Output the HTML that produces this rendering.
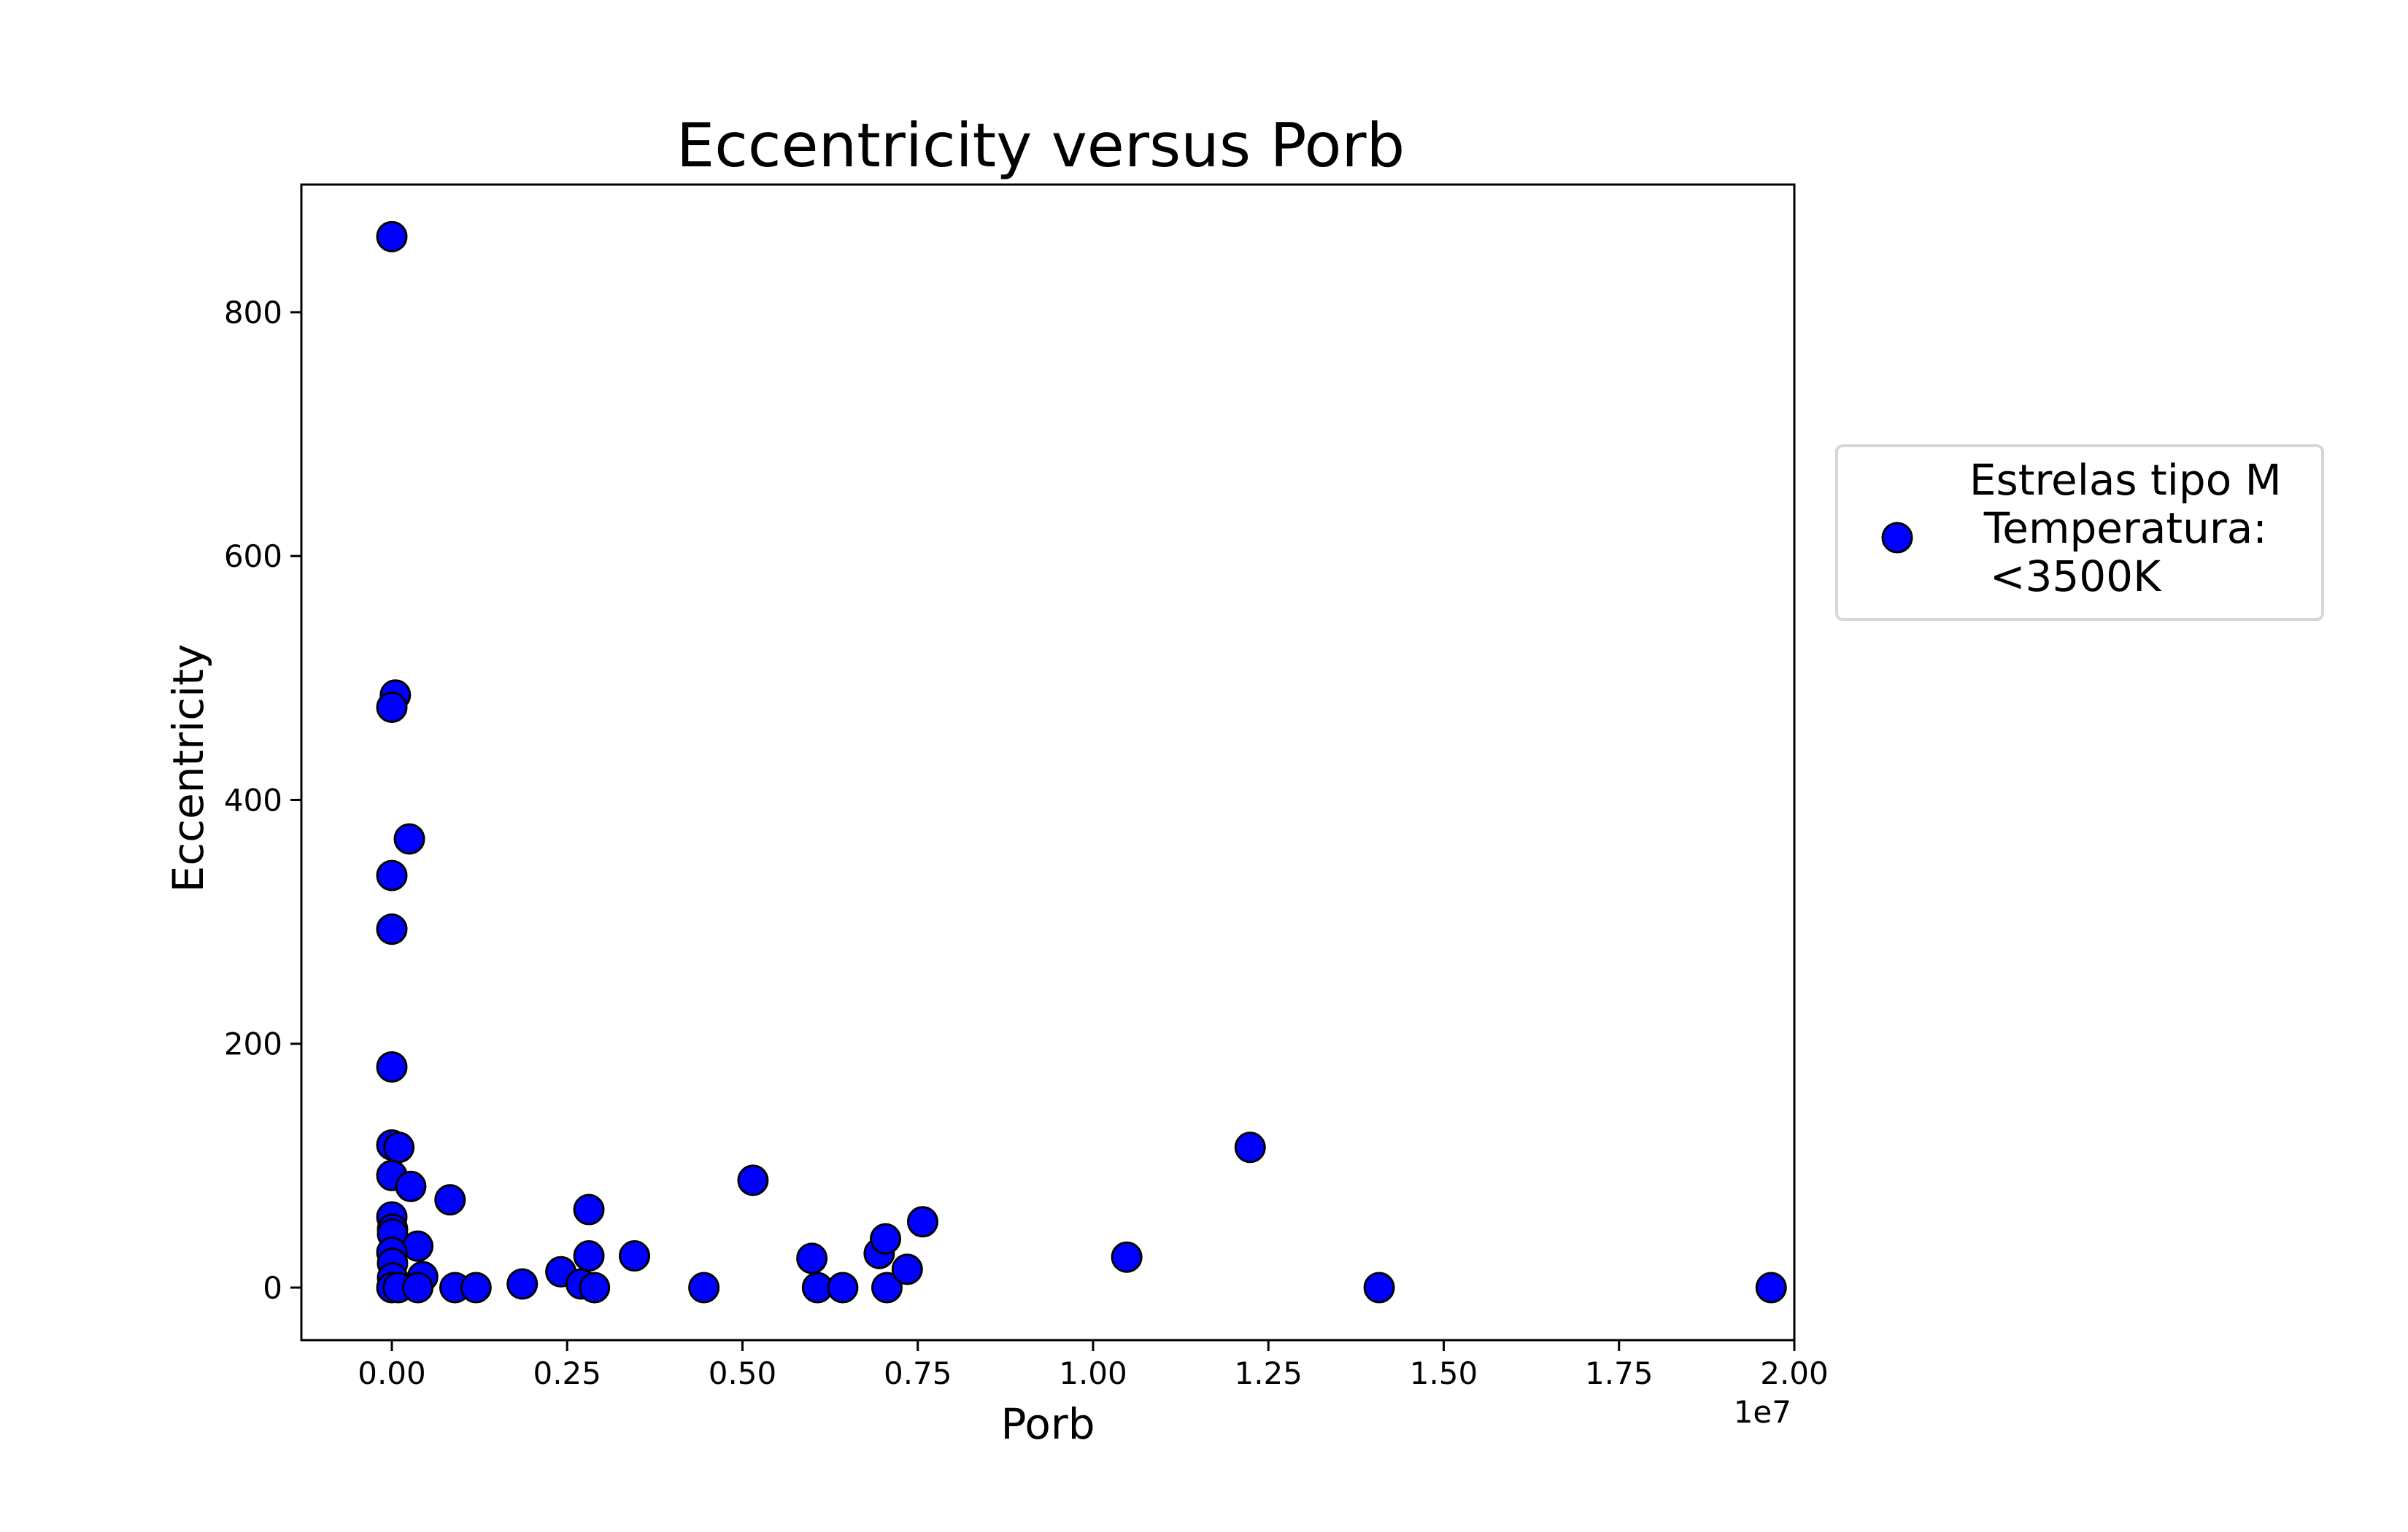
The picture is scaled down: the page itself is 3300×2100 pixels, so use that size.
<!DOCTYPE html>
<html><head><meta charset="utf-8"><style>
html,body{margin:0;padding:0;background:#fff;}
svg{display:block;font-family:"DejaVu Sans","Liberation Sans",sans-serif;}
</style></head><body>
<svg id="chart" width="3300" height="2100" viewBox="0 0 3300 2100" xmlns="http://www.w3.org/2000/svg">
<rect width="3300" height="2100" fill="#fff"/>
<text x="1426" y="228" font-size="83" text-anchor="middle">Eccentricity versus Porb</text>
<g id="marks"></g>
<g id="axes"></g>
<text x="1436" y="1972" font-size="58" text-anchor="middle">Porb</text>
<text x="2455" y="1950" font-size="42" text-anchor="end">1e7</text>
<text transform="translate(278,1053) rotate(-90)" font-size="58" text-anchor="middle">Eccentricity</text>
<g>
<rect x="2517" y="611" width="666" height="238" rx="8" fill="#fff" stroke="#d6d6d6" stroke-width="4"/>
<circle cx="2600" cy="737" r="20" fill="#0000ff" stroke="#000" stroke-width="3"/>
<text font-size="58" text-anchor="middle">
<tspan x="2922" y="678">Estrelas tipo M</tspan>
<tspan x="2922" y="744">Temperatura:</tspan>
<tspan x="2844" y="810">&lt;3500K</tspan>
</text>
</g>
</svg>
<script>
const porbValues = [0,0.005,0,0.025,0,0,0,0,0.01,0,0.027,0.083,0,0.001,0.001,0.037,0,0.001,0.044,0.001,0,0.009,0.037,0.09,0.12,0.186,0.241,0.27,0.281,0.281,0.289,0.346,0.445,0.515,0.599,0.607,0.643,0.695,0.704,0.706,0.735,0.757,1.048,1.224,1.408,1.967];
const eccValues = [862,486,476,368,338,294,181,117,115,92,83,72,58,48,44,34,29,20,9,8,0,0,0,0,0,3,13,3,64,26,0,26,0,88,24,0,0,28,40,0,15,54,25,115,0,0];
const xTicks = [0,0.25,0.5,0.75,1.0,1.25,1.5,1.75,2.0];
const xTickLabels = ["0.00","0.25","0.50","0.75","1.00","1.25","1.50","1.75","2.00"];
const yTicks = [0,200,400,600,800];
const yTickLabels = ["0","200","400","600","800"];

const NS="http://www.w3.org/2000/svg";
const L=413,R=2459,T=253,B=1837;
function xs(v){return 537+v*961;}
function ys(v){return 1765-v*1.6713;}
const marks=document.getElementById('marks');
for(let i=0;i<porbValues.length;i++){
  const c=document.createElementNS(NS,'circle');
  c.setAttribute('cx',xs(porbValues[i]));
  c.setAttribute('cy',ys(eccValues[i]));
  c.setAttribute('r',20);
  c.setAttribute('fill','#0000ff');
  c.setAttribute('stroke','#000');
  c.setAttribute('stroke-width','3');
  
  
  marks.appendChild(c);
}
const axes=document.getElementById('axes');
const frame=document.createElementNS(NS,'rect');
frame.setAttribute('x',L);frame.setAttribute('y',T);frame.setAttribute('width',R-L);frame.setAttribute('height',B-T);
frame.setAttribute('fill','none');frame.setAttribute('stroke','#000');frame.setAttribute('stroke-width','3');


axes.appendChild(frame);
xTicks.forEach((t,i)=>{
  const x=xs(t);
  const ln=document.createElementNS(NS,'line');
  ln.setAttribute('x1',x);ln.setAttribute('x2',x);ln.setAttribute('y1',B);ln.setAttribute('y2',B+15);
  ln.setAttribute('stroke','#000');ln.setAttribute('stroke-width','3');
  
  
  axes.appendChild(ln);
  const tx=document.createElementNS(NS,'text');
  tx.setAttribute('x',x);tx.setAttribute('y',1897);tx.setAttribute('font-size','42');tx.setAttribute('text-anchor','middle');
  tx.textContent=xTickLabels[i];
  
  
  axes.appendChild(tx);
});
yTicks.forEach((t,i)=>{
  const y=ys(t);
  const ln=document.createElementNS(NS,'line');
  ln.setAttribute('x1',L-15);ln.setAttribute('x2',L);ln.setAttribute('y1',y);ln.setAttribute('y2',y);
  ln.setAttribute('stroke','#000');ln.setAttribute('stroke-width','3');
  
  
  axes.appendChild(ln);
  const tx=document.createElementNS(NS,'text');
  tx.setAttribute('x',L-26);tx.setAttribute('y',y+15);tx.setAttribute('font-size','42');tx.setAttribute('text-anchor','end');
  tx.textContent=yTickLabels[i];
  
  
  axes.appendChild(tx);
});
</script>
</body></html>
